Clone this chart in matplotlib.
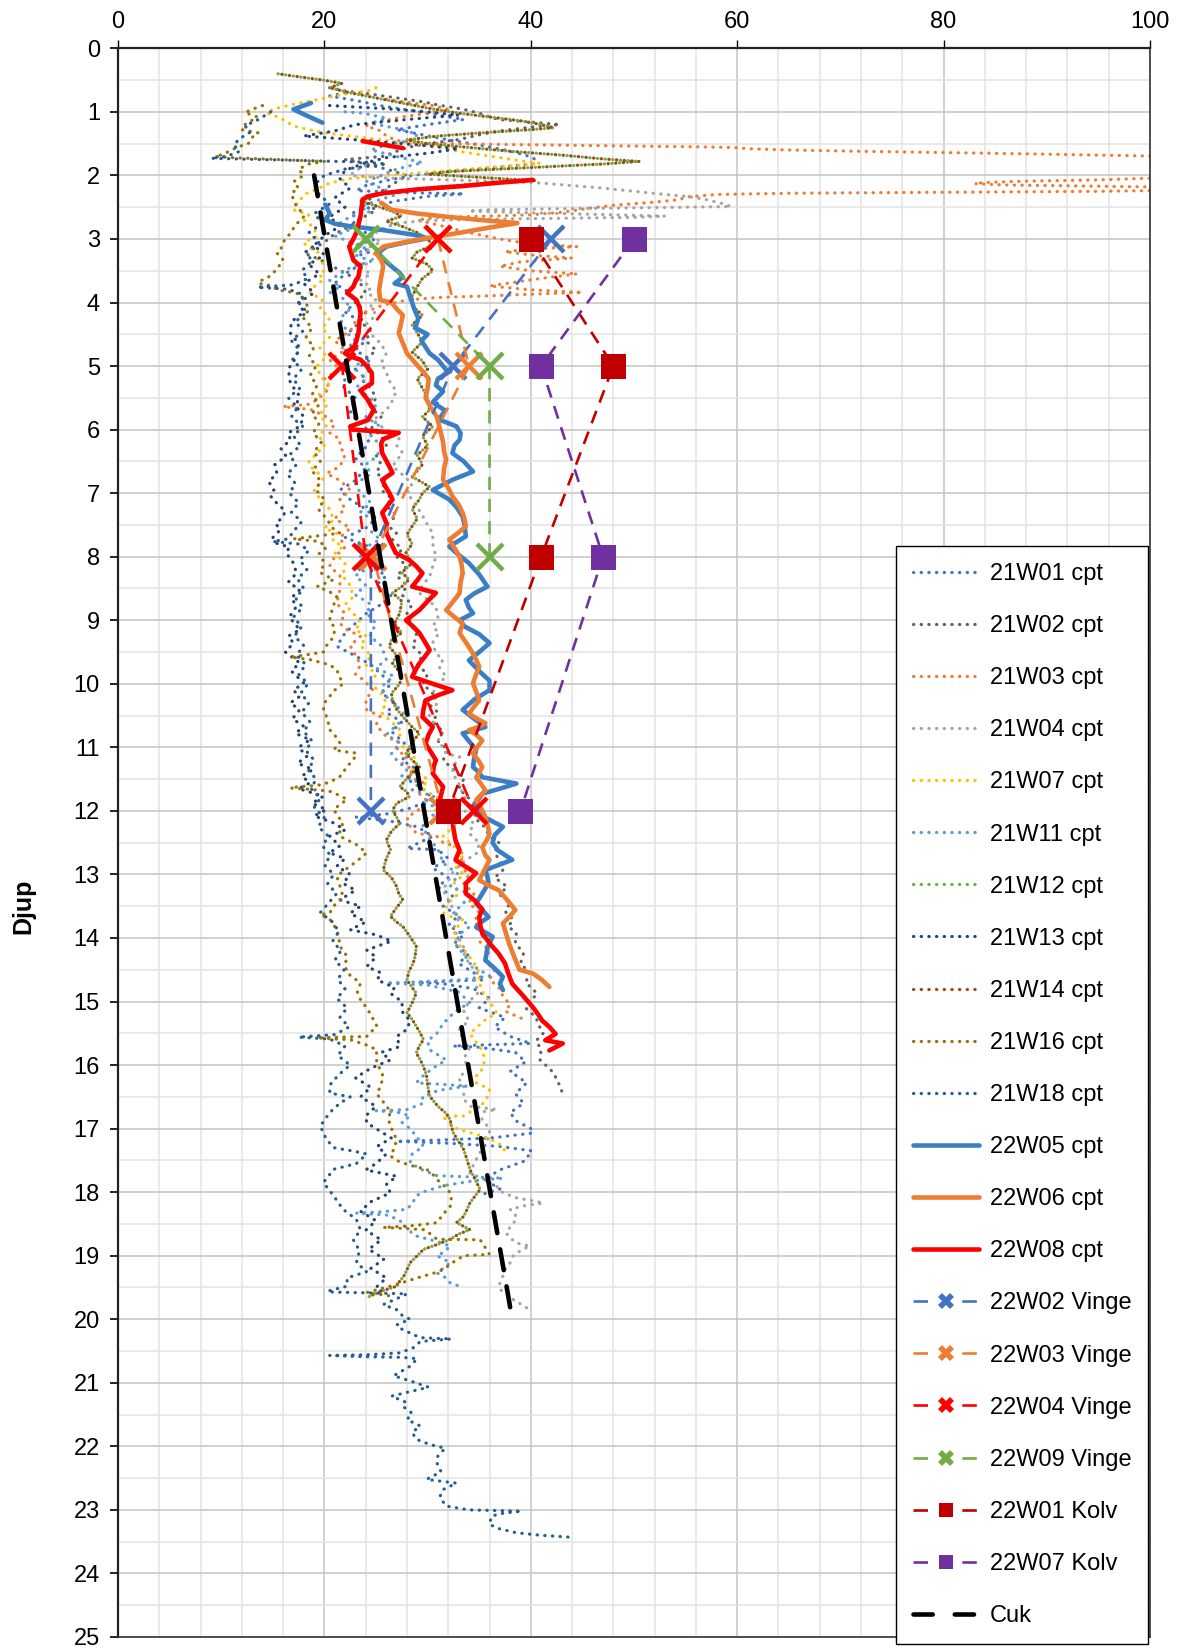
import matplotlib
matplotlib.use('Agg')
import matplotlib.pyplot as plt
from matplotlib.lines import Line2D
from matplotlib.ticker import MultipleLocator

plt.rcParams['font.family'] = ['Liberation Sans', 'DejaVu Sans']
nan = float('nan')

# ---------------- data (depth in m, value) ----------------
d_21W01 = [0.70,0.75,0.82,0.91,0.98,1.05,1.12,1.20,1.28,1.36, 1.44,1.52,1.60,1.68,1.75,1.82,1.88,1.94,2.00,2.08, 2.16,2.24,2.27,2.29,2.33,2.40,2.50,2.60,2.70,2.80, 2.90,3.00,3.10,3.20,3.30,3.40,3.55,3.70,3.85,4.00, 4.15,4.30,4.45,4.60,4.75,4.90,5.05,5.20,5.32,5.50, 5.74,5.90,6.05,6.26,6.45,6.60,6.80,6.95,7.10,7.25, 7.40,7.55,7.70,7.85,8.00,8.15,8.30,8.45,8.60,8.75, 8.90,9.05,9.20,9.41,9.57,9.70,9.85,10.00,10.15,10.30, 10.45,10.60,10.75,10.90,11.05,11.20,11.35,11.50,11.65,11.80, 11.95,12.05,12.10,12.15,12.25,12.40,12.59,12.61,12.75,12.90, 13.05,13.20,13.35,13.50,13.65,13.80,13.95,14.10,14.25,14.40, 14.55,14.66,14.68,14.70,14.72,14.80,14.95,15.10,15.25,15.40, 15.55,15.66,15.68,15.70,15.72,15.80,15.95,16.10,16.28,16.45, 16.60,16.75,16.88,17.00,17.07,17.15,17.18,17.20,17.23,17.28, 17.35,17.51,17.65,17.80,17.95,18.05]
v_21W01 = [22.0,20.5,23.0,25.7,28.5,31.0,33.5,30.0,27.0,29.5, 32.0,35.0,37.5,39.5,40.5,40.2,36.0,32.0,28.5,26.0, 24.0,23.1,28.0,33.5,30.0,27.0,24.5,22.5,23.5,22.0, 24.0,25.0,23.0,24.5,22.5,23.5,22.0,21.0,22.5,23.0, 22.0,23.5,22.5,24.0,23.0,24.5,23.0,22.0,21.8,23.0, 22.5,23.5,24.5,24.1,23.0,24.0,23.0,21.5,22.5,24.0, 25.0,24.0,22.0,24.5,25.5,24.5,26.0,25.0,26.5,25.5, 24.0,23.0,22.0,21.2,23.1,24.5,25.5,26.5,25.5,27.0, 26.0,27.5,26.5,27.5,28.5,27.5,29.0,28.0,29.5,30.5, 28.5,26.0,23.0,26.0,29.0,30.5,28.0,31.0,32.0,30.5, 32.0,31.0,32.5,31.5,33.0,32.0,33.5,32.5,34.0,33.0, 34.5,35.5,32.0,29.0,31.5,34.5,36.0,35.0,37.5,36.5, 38.0,40.0,36.0,32.5,35.0,38.5,39.5,38.0,39.6,38.5, 39.3,38.0,38.6,40.0,40.2,36.0,31.0,27.0,32.0,37.0, 40.1,39.4,37.0,35.5,37.0,35.0]

d_21W02 = [0.62,0.67,0.72,0.78,0.84,0.90,0.96,1.02,1.08,1.12, 1.16,1.20,1.24,1.30,1.36,1.43,1.50,1.56,1.62,1.70, 1.75,1.82,1.90,2.00,2.10,2.20,2.30,2.42,2.55,2.68, 2.80,2.92,3.05,3.15,3.22,3.32,3.45,3.58,3.70,3.85, 4.00,4.15,4.30,4.45,4.60,4.75,4.90,5.05,5.20,5.35, 5.50,5.65,5.80,5.95,6.10,6.25,6.40,6.55,6.68,6.80, 6.95,7.08,7.20,7.35,7.50,7.62,7.73,7.88,8.00,8.15, 8.30,8.45,8.60,8.75,8.89,9.10,9.25,9.40,9.55,9.70, 9.85,10.00,10.15,10.30,10.45,10.60,10.75,10.90,11.05,11.20, 11.35,11.50,11.65,11.80,11.95,12.10,12.25,12.40,12.50,12.65, 12.80,12.93,13.05,13.19,13.32,13.45,13.58,13.71,13.82,13.92, 14.08,14.24,14.40,14.55,14.70,14.87,15.00,15.10,15.25,15.38, 15.50,15.62,15.75,15.92,16.07,16.15,16.23,16.32,16.41]
v_21W02 = [20.5,22.0,24.5,27.0,29.5,31.3,33.5,35.0,36.0,36.9, 40.0,42.8,40.0,37.0,35.0,33.2,30.0,28.0,27.0,25.7, 22.0,24.0,26.0,28.0,27.0,26.0,25.0,24.0,25.0,23.5, 22.5,21.0,20.0,19.0,18.0,19.5,21.0,22.5,23.5,24.0, 23.0,24.0,23.5,24.5,24.0,25.0,24.0,24.5,23.5,24.5, 25.0,24.5,25.5,24.5,25.5,26.0,25.0,25.5,25.0,26.0, 25.5,26.5,26.0,27.0,26.0,27.0,26.6,27.5,27.0,28.0, 27.0,28.0,27.5,28.5,28.0,28.5,29.0,28.5,29.5,29.0, 30.0,29.5,30.5,30.0,31.0,30.5,31.5,31.0,32.0,31.5, 32.5,33.5,33.0,34.0,35.0,34.5,35.5,36.0,36.9,36.5, 37.0,37.3,36.5,37.7,37.0,38.0,37.5,38.3,37.8,38.6, 38.5,39.3,39.0,39.9,39.5,40.6,40.0,39.5,40.5,40.8, 41.2,40.5,41.0,40.9,41.9,42.3,42.5,42.8,43.0]

d_21W03 = [0.80,0.85,0.90,0.96,1.02,1.08,1.15,1.22,1.30,1.38, 1.45,1.49,1.50,1.51,1.52,1.53,1.54,1.55,1.56,1.57, 1.58,1.60,1.62,1.64,1.66,1.68,1.70,1.80,2.00,2.07, 2.09,2.11,2.13,2.15,2.17,2.19,2.23,2.25,2.26,2.27, 2.28,2.30,2.34,2.38,2.42,2.47,2.52,2.58,2.62,2.64, 2.66,2.70,2.80,2.90,3.00,3.08,3.12,3.16,3.20,3.26, 3.30,3.36,3.43,3.50,3.55,3.62,3.69,3.74,3.80,3.84, 3.87,3.90,3.92,3.96,4.05,4.15,4.30,4.45,4.60,4.75, 4.90,5.05,5.20,5.35,5.50,5.60,5.64,5.68,5.78,5.90, 6.05,6.15,6.26,6.40,6.58,6.69,6.80,6.95,7.10,7.25, 7.40,7.55,7.70,7.85,8.00,8.15,8.30,8.52,8.73,8.90, 9.05,9.15,9.25,9.40,9.55,9.70,9.85,9.94,10.10,10.25, 10.41,10.51,10.65,10.83,10.93,11.05,11.14,11.25,11.35,11.45, 11.56,11.70,11.85,12.00,12.10,12.24,12.35,12.40,12.50,12.56, 12.70,12.85,13.00,13.15,13.30,13.45,13.60,13.75,13.90,14.05, 14.20,14.35,14.50,14.65,14.80,14.92,15.05,15.15,15.23,15.30]
v_21W03 = [26.0,28.0,30.5,32.0,30.0,27.5,25.5,24.0,25.5,26.0, 27.0,29.0,32.0,36.0,41.0,46.0,51.0,56.0,59.5,60.5, 61.0,65.0,72.0,80.0,88.0,95.0,102.0,110.0,108.0,95.0, 88.0,84.0,83.0,86.0,95.0,104.0,104.0,95.0,85.0,75.0, 65.0,58.0,55.0,54.4,52.0,48.0,45.5,43.0,40.0,36.0, 31.0,29.0,31.5,34.0,37.0,40.0,44.5,40.0,37.5,40.5, 44.0,39.0,37.0,40.0,44.5,41.0,38.0,36.0,40.0,45.0, 40.0,35.0,31.0,28.0,25.5,24.0,23.0,22.5,21.0,22.0, 20.5,21.5,20.0,20.5,19.5,18.6,16.0,18.6,20.0,21.0, 20.5,21.5,21.5,22.0,21.5,20.2,21.5,22.5,21.5,22.0, 21.0,22.5,21.5,22.0,21.0,20.5,21.5,21.5,21.2,22.0, 21.5,22.2,23.5,22.5,23.0,23.5,23.0,23.8,24.7,24.0, 24.1,25.4,25.0,26.0,27.3,27.0,28.0,27.5,28.6,28.0, 29.6,29.0,30.0,29.0,28.0,28.3,28.9,30.9,31.5,32.8, 33.5,33.0,34.0,33.5,34.5,34.0,35.0,34.5,35.5,35.0, 36.0,35.5,36.5,36.0,37.0,37.3,38.0,37.5,38.6,39.6]

d_21W04 = [1.85,1.92,2.00,2.04,2.06,2.08,2.10,2.12,2.16,2.20, 2.25,2.30,2.33,2.38,2.44,2.49,2.50,2.51,2.52,2.53, 2.54,2.56,2.58,2.60,2.62,2.64,2.66,2.67,2.68,2.69, 2.71,2.75,2.85,2.95,3.05,3.15,3.25,3.35,3.45,3.55, 3.65,3.75,3.85,3.95,4.05,4.20,4.35,4.50,4.65,4.80, 4.95,5.10,5.27,5.40,5.48,5.58,5.69,5.78,5.85,5.95, 6.10,6.25,6.37,6.48,6.58,6.70,6.85,7.00,7.10,7.20, 7.35,7.50,7.63,7.80,8.00,8.15,8.31,8.45,8.57,8.68, 8.79,8.95,9.10,9.20,9.35,9.52,9.62,9.73,9.89,10.00, 10.15,10.30,10.45,10.60,10.75,10.90,11.00,11.10,11.15,11.30, 11.41,11.55,11.62,11.75,11.90,12.05,12.20,12.35,12.50,12.66, 12.80,12.95,13.10,13.24,13.40,13.55,13.70,13.85,14.00,14.15, 14.24,14.40,14.55,14.70,14.85,15.00,15.15,15.30,15.45,15.60, 15.75,15.90,16.05,16.20,16.35,16.54,16.65,16.70,16.75,16.90, 17.00,17.12,17.25,17.40,17.55,17.70,17.80,17.91,18.01,18.09, 18.13,18.17,18.21,18.27,18.35,18.43,18.55,18.64,18.72,18.80, 18.85,18.92,19.00,19.11,19.22,19.32,19.43,19.53,19.62,19.69, 19.76,19.82]
v_21W04 = [24.0,23.0,22.5,26.0,30.0,34.0,38.0,41.0,44.0,47.0, 50.0,53.0,55.2,57.0,58.5,59.4,55.0,50.0,45.0,40.0, 36.0,34.0,38.0,43.0,48.0,53.0,50.0,45.0,40.0,35.0, 30.0,27.0,25.5,24.5,25.5,24.0,25.0,24.5,23.5,24.5, 23.5,24.5,24.2,25.0,24.5,25.0,24.0,24.5,25.5,26.0, 25.5,26.0,26.4,27.0,26.7,26.5,26.0,25.3,24.7,25.5, 27.3,27.0,27.6,27.0,26.6,27.5,28.5,28.0,28.5,28.9, 29.5,30.0,30.5,30.5,30.8,30.5,30.2,29.5,29.2,30.0, 30.8,31.0,30.5,31.1,30.5,30.8,31.5,31.1,31.8,31.0, 30.5,31.0,30.0,30.5,31.5,31.0,31.5,31.8,33.1,32.5, 32.4,33.0,33.1,33.5,34.0,33.5,34.5,34.0,35.0,34.8, 33.5,32.5,32.0,31.5,32.0,32.5,33.0,32.5,33.0,33.5, 33.5,34.0,34.8,34.5,35.0,34.0,33.5,34.0,33.0,33.5, 34.0,33.5,34.0,33.0,33.5,33.5,34.2,36.7,34.8,35.5, 36.0,36.0,35.5,35.0,34.5,34.1,35.5,36.7,37.3,38.6, 40.0,41.2,39.5,38.0,38.5,38.6,38.0,37.6,38.0,38.6, 39.9,39.0,38.3,38.0,37.5,37.3,37.0,37.0,37.8,38.3, 39.0,39.6]

d_21W07 = [0.62,0.66,0.72,0.80,0.88,0.96,1.02,1.08,1.15,1.22, 1.28,1.33,1.37,1.42,1.47,1.52,1.57,1.62,1.67,1.72, 1.77,1.81,1.85,1.90,1.95,2.00,2.05,2.12,2.20,2.28, 2.40,2.54,2.62,2.70,2.82,2.96,3.05,3.12,3.22,3.33, 3.45,3.55,3.64,3.75,3.85,3.95,4.10,4.25,4.40,4.55, 4.70,4.85,5.00,5.16,5.30,5.45,5.60,5.75,5.95,6.10, 6.25,6.37,6.50,6.58,6.70,6.79,6.95,7.10,7.25,7.42, 7.55,7.63,7.75,7.84,7.95,8.10,8.31,8.45,8.63,8.75, 8.89,9.04,9.15,9.25,9.40,9.55,9.70,9.85,10.00,10.15, 10.30,10.45,10.60,10.75,10.90,11.05,11.20,11.35,11.50,11.65, 11.80,11.95,12.10,12.25,12.40,12.55,12.70,12.85,13.00,13.15, 13.30,13.45,13.60,13.66,13.68,13.80,13.95,14.10,14.24,14.40, 14.55,14.70,14.87,15.00,15.18,15.30,15.40,15.50,15.60,15.70, 15.81,15.95,16.13,16.23,16.30,16.38,16.50,16.60,16.70,16.80, 16.81,16.90,17.00,17.06,17.12,17.20,17.28,17.36,17.43]
v_21W07 = [25.0,24.5,22.0,19.5,17.0,15.0,14.4,15.5,16.3,17.0, 18.5,20.0,22.0,24.5,27.0,29.5,31.5,33.0,35.0,37.0, 39.0,40.9,38.0,34.0,30.0,26.0,22.5,20.5,19.5,18.3, 17.5,17.0,18.5,18.0,19.0,19.3,18.0,18.3,19.5,19.3, 20.5,19.5,19.9,19.0,18.6,19.8,19.6,20.5,19.8,20.5, 19.5,20.2,19.3,19.6,20.5,19.5,20.3,19.6,20.2,19.5, 20.0,19.3,18.5,18.6,19.5,19.9,19.0,19.6,20.5,20.9, 20.0,21.2,20.8,21.8,21.0,22.0,21.8,22.5,22.8,22.0, 22.8,23.5,23.0,24.1,23.5,24.5,24.0,25.0,24.5,25.5, 26.0,25.5,26.5,27.5,27.0,28.0,29.0,28.5,30.0,29.5, 31.0,30.5,31.5,32.5,31.5,32.5,33.5,32.5,33.5,32.5, 33.0,32.0,31.5,32.2,33.5,33.0,32.5,33.0,33.8,34.5, 35.0,35.0,35.4,36.0,36.7,35.5,34.8,34.1,34.5,35.0, 35.4,35.5,35.1,34.1,35.0,36.0,35.8,35.4,34.5,33.5, 31.5,32.0,32.8,34.0,35.4,36.5,37.3,37.5,37.7]

d_21W11 = [1.00,1.02,1.10,1.18,1.26,1.35,1.44,1.52,1.60,1.70, 1.80,1.90,2.00,2.10,2.20,2.30,2.40,2.50,2.57,2.65, 2.75,2.85,2.95,3.05,3.15,3.25,3.35,3.45,3.55,3.65, 3.75,3.85,3.95,4.10,4.25,4.40,4.48,4.60,4.75,4.90, 5.05,5.20,5.35,5.50,5.65,5.80,5.95,6.10,6.25,6.42, 6.55,6.70,6.85,7.00,7.15,7.30,7.45,7.60,7.73,7.85, 8.00,8.15,8.30,8.45,8.60,8.75,8.89,9.05,9.25,9.40, 9.62,9.75,9.88,10.05,10.20,10.35,10.51,10.65,10.80,10.93, 11.10,11.20,11.35,11.45,11.56,11.67,11.77,11.88,11.98,12.10, 12.25,12.45,12.60,12.82,13.00,13.19,13.30,13.45,13.60,13.82, 13.95,14.13,14.25,14.40,14.50,14.60,14.66,14.69,14.71,14.74, 14.85,15.02,15.12,15.23,15.35,15.50,15.62,15.76,15.92,16.05, 16.18,16.28,16.31,16.33,16.40,16.50,16.60,16.70,16.72,16.74, 16.80,16.90,17.00,17.14,17.28,17.40,17.54,17.65,17.74,17.76, 17.78,17.82,17.90,18.00,18.06,18.18,18.27,18.31,18.33,18.36, 18.42,18.48,18.58,18.69,18.78,18.85,18.95,19.00,19.11,19.20, 19.27,19.35,19.43,19.48]
v_21W11 = [22.0,23.8,26.0,24.5,27.0,29.0,28.6,26.0,24.5,27.0, 29.5,27.0,25.5,24.0,25.5,27.0,25.0,23.5,24.4,22.5, 21.5,22.5,21.0,22.5,24.0,23.0,24.5,22.5,21.5,20.5, 21.5,20.5,22.0,22.5,21.5,22.0,22.2,23.0,22.0,23.5, 23.0,24.0,23.0,24.5,25.0,24.0,25.4,24.5,25.5,25.1, 24.0,24.5,23.0,23.5,24.5,23.5,25.0,24.5,25.4,24.0, 23.5,24.5,23.0,24.0,23.0,24.5,24.1,25.0,24.4,25.5, 26.0,25.0,26.7,25.5,26.0,27.0,28.0,27.0,26.0,27.3, 26.5,27.0,28.0,27.5,29.3,28.5,30.6,29.5,31.9,30.0, 29.5,30.2,31.0,31.5,33.0,32.2,34.0,33.5,32.5,34.1, 33.0,32.8,33.5,34.1,35.0,36.0,33.0,29.0,26.0,30.0, 33.0,34.1,33.0,32.2,31.5,30.9,30.0,30.2,31.8,30.5, 29.5,28.9,32.0,33.8,31.0,29.5,29.6,28.0,25.0,27.0, 28.3,27.5,28.3,29.0,29.6,28.5,28.3,29.5,30.9,34.0, 37.3,34.5,31.5,29.5,28.9,28.5,28.0,25.5,23.1,26.0, 27.0,27.6,28.0,28.9,31.0,32.2,31.5,30.9,32.2,31.5, 30.9,31.8,32.2,33.1]

d_21W14 = [0.40,0.45,0.50,0.55,0.62,0.70,0.78,0.86,0.94,1.02, 1.08,1.14,1.20,1.25,1.28,1.32,1.38,1.44,1.50,1.56, 1.62,1.68,1.74,1.78,1.82,1.86,1.90,1.94,1.98,2.02, 2.06,2.08,2.12,2.18,2.25,2.32,2.40,2.48,2.56,2.64, 2.72,2.80,2.90,3.00,3.10,3.20,3.30,3.40,3.50,3.62, 3.75,3.90,4.06,4.20,4.35,4.48,4.62,4.78,4.92,5.05, 5.20,5.35,5.50,5.69,5.80,5.95,6.10,6.25,6.40,6.55, 6.74,6.90,7.00,7.10,7.25,7.40,7.52,7.65,7.80,7.94, 8.10,8.25,8.36,8.47,8.57,8.70,8.89,9.05,9.20,9.30, 9.42,9.55,9.68,9.85,10.00,10.15,10.26,10.40,10.57,10.68, 10.78,10.92,11.10,11.20,11.31,11.45,11.62,11.70,11.78,11.88, 11.99,12.10,12.20,12.32,12.46,12.61,12.75,12.93,13.05,13.19, 13.30,13.40,13.52,13.66,13.75,13.82,13.98,14.13,14.28,14.40, 14.52,14.66,14.78,14.87,15.02,15.18,15.28,15.39,15.50,15.60, 15.70,15.81,15.92,16.02,16.17,16.32,16.49,16.65,16.76,16.86, 16.96,17.07,17.20,17.33,17.48,17.64,17.80,17.96,18.06,18.17, 18.28,18.38,18.48,18.59,18.66,18.74,18.82,18.90,19.00,19.11, 19.22,19.32,19.40,19.48,19.56,19.66]
v_21W14 = [15.5,17.6,19.9,21.7,20.5,22.5,25.0,27.5,30.0,33.0, 36.0,39.0,41.0,42.2,40.0,36.0,31.0,28.0,30.0,34.0, 38.0,43.0,47.0,50.5,47.0,42.0,37.0,32.0,30.0,34.0, 38.0,40.5,36.0,31.0,27.0,24.5,23.5,25.0,26.5,27.5, 26.0,27.5,29.0,30.0,30.5,29.0,28.5,30.0,30.5,29.5, 29.0,28.5,28.6,29.5,28.5,29.0,29.5,28.5,29.5,30.0, 29.0,29.5,30.0,30.2,29.5,30.5,29.5,30.0,29.0,29.5, 28.5,30.2,29.5,29.2,28.5,29.0,28.5,28.0,28.5,27.9, 28.5,27.5,28.2,27.5,26.6,27.5,27.3,26.8,27.5,26.5, 26.3,27.0,26.6,27.5,27.3,26.5,26.6,27.0,27.9,28.5, 29.2,28.5,27.9,28.5,29.2,28.2,27.3,28.0,28.2,27.0, 26.6,27.0,27.3,26.5,26.0,26.4,26.0,25.7,26.5,27.0, 27.2,27.6,27.0,26.4,27.0,27.6,28.3,28.9,28.8,28.6, 28.2,28.0,28.5,28.9,28.5,28.0,28.5,28.9,29.3,29.6, 29.2,28.9,29.3,29.6,29.9,30.0,30.2,31.0,31.8,32.2, 32.3,32.5,33.0,33.5,33.8,34.1,34.6,35.1,34.6,34.1, 33.8,33.5,32.8,34.1,33.0,32.2,31.0,29.6,29.0,28.3, 28.0,27.7,27.3,27.0,25.5,24.1]
# 21W12 lies on top of 21W14 (same readings)
d_21W12 = list(d_21W14)
v_21W12 = list(v_21W14)

d_21W13 = [0.90,0.95,1.00,1.05,1.12,1.20,1.30,1.38,1.45,1.52, 1.58,1.65,1.72,1.80,1.92,2.05,2.20,2.35,2.50,2.65, 2.80,2.95,3.10,3.25,3.40,3.55,3.70,3.85,4.00,4.15, 4.30,4.48,4.65,4.85,5.05,5.27,5.45,5.64,5.80,5.95, 6.05,6.16,6.30,6.42,6.55,6.69,6.82,6.95,7.05,7.16, 7.28,7.37,7.48,7.58,7.70,7.79,7.85,7.94,8.10,8.26, 8.40,8.52,8.65,8.78,8.95,9.15,9.25,9.36,9.50,9.67, 9.80,9.99,10.10,10.20,10.30,10.41,10.55,10.67,10.78,10.88, 11.00,11.14,11.25,11.35,11.45,11.56,11.65,11.77,11.88,11.98, 12.08,12.19,12.30,12.40,12.55,12.66,12.75,12.87,13.00,13.14, 13.25,13.40,13.50,13.61,13.75,13.87,13.95,14.05,14.19,14.30, 14.45,14.55,14.66,14.78,14.87,15.00,15.18,15.30,15.44,15.55, 15.71,15.80,15.92,16.05,16.20,16.35,16.50,16.65,16.80,16.91, 17.05,17.15,17.28,17.40,17.55,17.65,17.75,17.88,18.01,18.15, 18.30,18.45,18.60,18.75,18.90,19.05,19.20,19.35,19.50,19.62]
v_21W13 = [20.5,26.0,30.0,33.0,28.0,23.0,21.0,18.0,24.0,29.0, 33.0,30.0,26.0,24.0,22.0,21.5,22.5,21.0,22.0,20.5, 21.5,20.0,19.0,20.0,18.5,19.5,18.0,19.0,17.5,18.0, 16.8,16.7,17.5,17.3,16.5,16.7,17.5,17.3,18.0,17.6, 16.5,16.7,15.8,16.3,15.2,15.4,14.6,15.1,14.8,15.4, 16.2,16.0,15.3,15.7,15.0,15.4,16.6,16.3,17.0,17.3, 16.5,17.6,16.8,17.3,16.6,17.6,16.5,17.0,16.2,17.6, 16.8,18.0,17.0,17.6,16.7,17.6,16.9,18.0,17.2,18.6, 17.5,18.3,17.4,18.9,17.8,18.6,17.5,19.9,18.8,20.2, 19.0,20.9,22.0,20.5,21.5,20.5,22.0,21.2,22.5,21.8, 23.0,21.5,23.5,22.5,24.0,22.5,25.0,26.5,24.1,25.0, 24.1,25.5,25.1,26.8,26.4,27.5,27.6,28.3,28.0,27.0, 27.3,25.5,26.4,24.5,23.0,24.5,23.5,25.0,24.0,24.1, 25.5,26.5,25.1,26.0,25.0,24.0,27.0,26.0,26.4,24.5, 23.5,25.0,24.0,25.5,24.3,25.8,24.5,26.0,25.0,26.0]

d_21W16 = [0.90,0.96,1.01,1.08,1.15,1.22,1.28,1.33,1.40,1.49, 1.56,1.62,1.68,1.70,1.72,1.74,1.76,1.78,1.82,1.90, 2.00,2.10,2.20,2.28,2.38,2.49,2.58,2.65,2.78,2.91, 3.05,3.15,3.22,3.33,3.45,3.58,3.66,3.70,3.74,3.80, 3.85,3.95,4.10,4.25,4.40,4.55,4.70,4.85,5.00,5.15, 5.30,5.45,5.60,5.75,5.90,6.05,6.20,6.35,6.50,6.65, 6.80,6.95,7.10,7.25,7.40,7.55,7.63,7.68,7.72,7.76, 7.85,7.95,8.10,8.25,8.36,8.47,8.55,8.63,8.80,9.00, 9.12,9.26,9.40,9.50,9.55,9.58,9.62,9.70,9.78,9.90, 10.00,10.10,10.20,10.30,10.41,10.55,10.72,10.85,10.93,11.04, 11.07,11.09,11.20,11.30,11.40,11.46,11.55,11.60,11.62,11.64, 11.66,11.69,11.76,11.82,11.90,11.98,12.08,12.19,12.30,12.40, 12.52,12.66,12.77,12.87,12.95,13.03,13.18,13.35,13.48,13.61, 13.63,13.70,13.87,14.00,14.13,14.29,14.42,14.55,14.71,14.85, 14.97,15.08,15.18,15.30,15.39,15.48,15.55,15.56,15.57,15.59, 15.60,15.68,15.76,15.87,15.97,16.07,16.18,16.30,16.46,16.60, 16.73,16.85,16.96,17.07,17.17,17.30,17.43,17.50,17.54,17.60, 17.64,17.72,17.80,17.90,18.01,18.12,18.22,18.35,18.48,18.51, 18.53,18.555,18.57,18.59,18.66,18.74,18.745,18.75,18.85,18.98, 19.00,19.10,19.22,19.28,19.32,19.40,19.48,19.53,19.58,19.64]
v_21W16 = [14.0,13.0,12.3,13.5,12.8,12.1,12.0,13.6,13.0,12.7, 11.5,10.8,9.9,9.4,11.0,14.0,17.0,20.0,18.5,17.5, 18.0,17.0,17.5,16.8,17.0,17.3,17.8,18.0,17.2,16.7, 16.0,15.8,15.4,16.0,15.5,14.8,13.8,13.6,15.0,15.4, 17.3,18.0,18.5,18.0,18.8,18.2,19.0,18.5,19.2,18.6, 19.3,18.8,19.5,18.8,19.5,18.9,19.7,19.0,19.6,18.8, 19.6,19.2,20.0,19.4,20.2,20.8,21.5,19.0,17.0,19.5, 20.2,19.5,20.0,19.6,20.9,19.3,20.5,21.2,20.8,20.5, 21.0,20.9,20.2,19.9,18.0,16.7,18.6,20.5,21.2,21.5, 21.8,21.0,20.5,20.0,19.9,20.3,20.5,21.2,21.5,20.9, 22.0,23.1,22.8,22.2,21.8,21.5,20.5,19.3,17.5,16.7, 18.5,20.5,21.5,22.2,21.5,20.9,21.3,21.8,21.5,21.5, 23.0,24.1,23.3,22.5,21.8,21.2,21.5,21.8,21.0,20.5, 19.6,20.5,21.2,21.4,21.5,22.2,22.0,22.2,23.5,23.2, 23.5,24.0,24.4,24.8,25.1,24.5,24.1,21.5,19.3,21.0, 22.5,24.0,25.1,25.0,25.1,25.4,25.7,25.5,25.1,25.8, 26.4,26.2,26.4,26.7,27.0,26.8,26.4,27.0,27.6,28.8, 29.9,30.5,30.9,31.6,32.2,32.3,32.2,31.5,30.9,29.5, 28.3,25.7,27.5,29.6,30.3,30.9,33.0,35.1,35.5,36.0, 33.5,32.5,31.5,30.5,29.6,28.0,26.4,25.2,24.1,26.7]

d_21W18 = [1.00,1.12,1.22,1.32,1.42,1.52,1.62,1.70,1.73,1.75, 1.77,1.79,1.82,1.90,2.00,2.15,2.30,2.45,2.60,2.75, 2.90,3.05,3.20,3.35,3.50,3.62,3.72,3.76,3.79,3.88, 4.00,4.15,4.30,4.45,4.60,4.75,4.90,5.05,5.20,5.35, 5.50,5.65,5.80,5.95,6.10,6.25,6.40,6.55,6.70,6.85, 7.00,7.15,7.30,7.45,7.60,7.72,7.76,7.80,7.90,8.05, 8.20,8.35,8.50,8.65,8.80,8.95,9.10,9.25,9.40,9.55, 9.70,9.85,10.00,10.15,10.30,10.45,10.60,10.75,10.90,11.05, 11.20,11.35,11.50,11.65,11.80,11.95,12.10,12.25,12.40,12.55, 12.70,12.85,13.00,13.15,13.30,13.45,13.60,13.75,13.90,14.05, 14.20,14.35,14.50,14.65,14.80,14.95,15.10,15.25,15.40,15.52, 15.56,15.59,15.70,15.85,16.00,16.15,16.30,16.44,16.50,16.60, 16.75,16.96,17.17,17.30,17.36,17.40,17.55,17.64,17.85,18.06, 18.27,18.43,18.60,18.75,18.92,19.11,19.25,19.35,19.48,19.55, 19.57,19.58,19.59,19.60,19.64,19.77,19.85,19.95,20.00,20.09, 20.14,20.24,20.29,20.31,20.35,20.45,20.53,20.56,20.57,20.59, 20.60,20.62,20.74,20.89,20.98,21.07,21.15,21.21,21.30,21.37, 21.48,21.58,21.68,21.78,21.89,21.97,22.03,22.15,22.26,22.40, 22.52,22.58,22.68,22.79,22.90,22.94,23.00,23.02,23.06,23.10, 23.23,23.30,23.36,23.40,23.43]
v_21W18 = [14.8,13.6,12.3,12.8,11.8,11.2,11.8,10.5,9.0,14.0, 19.0,24.0,26.0,22.0,20.0,19.0,19.5,20.5,19.0,19.8, 18.5,19.5,18.2,18.8,17.8,18.4,17.0,13.5,16.5,18.0, 17.5,18.3,17.2,17.9,16.8,17.6,16.9,17.8,17.0,17.6, 16.5,17.4,16.8,17.9,17.0,17.7,16.6,17.3,16.4,17.2, 16.6,17.5,16.8,17.8,17.0,16.5,15.0,17.5,18.5,17.6, 18.3,17.4,18.0,17.2,17.9,17.0,17.8,17.1,18.0,17.3, 18.2,17.5,18.4,17.7,18.5,17.8,18.6,18.0,18.8,18.2, 19.0,18.4,19.2,18.7,19.6,19.0,20.0,19.4,20.4,19.8, 20.6,20.0,20.9,20.3,21.2,20.4,19.6,20.8,21.4,20.8, 21.6,21.0,21.9,21.3,22.0,21.2,22.2,21.5,22.4,21.0, 17.5,20.5,22.0,21.3,22.5,21.4,20.6,20.5,22.5,21.5, 20.5,19.6,20.2,20.9,23.0,24.1,23.1,20.9,19.9,20.9, 21.8,23.1,23.5,22.8,23.4,23.1,24.1,22.2,22.2,20.5, 20.3,23.0,26.0,28.0,27.5,25.7,27.0,27.6,28.3,27.0, 27.3,28.6,29.3,32.3,29.3,28.6,27.3,24.0,20.5,24.0, 27.5,29.0,28.3,26.7,28.5,30.1,28.0,26.5,27.8,27.6, 28.5,28.0,29.3,28.5,28.9,30.2,31.7,31.0,30.9,31.3, 29.9,32.8,31.5,31.2,31.6,31.8,34.0,39.1,37.0,36.2, 36.0,37.0,38.6,41.0,43.8]

d_22W05 = [0.86,0.96,1.06,1.17,nan, 2.46,2.60,2.70,2.76,2.80, 2.86,2.94,2.99,3.05,3.12, 3.22,3.33,3.43,3.52,3.60, 3.70,3.75,3.90,4.10,4.25, 4.40,4.50,4.60,4.70,4.80, 4.90,5.00,5.10,5.20,5.30, 5.40,5.50,5.57,5.70,5.84, 5.95,6.06,6.16,6.25,6.37, 6.50,6.66,6.79,6.95,7.10, 7.22,7.37,7.52,7.68,7.84, 7.97,8.10,8.28,8.47,8.58, 8.68,8.80,8.89,9.00,9.10, 9.22,9.36,9.50,9.63,9.80, 9.95,10.10,10.25,10.41,10.55, 10.68,10.78,10.90,11.04,11.18, 11.31,11.40,11.47,11.57,11.65, 11.73,11.85,11.94,12.10,12.25, 12.38,12.50,12.62,12.77,12.93, 13.04,13.14,13.30,13.46,13.56, 13.67,13.75,13.83,13.98,14.15, 14.35,14.48,14.61,14.72,14.82]
v_22W05 = [18.7,17.0,18.3,19.8,nan, 20.1,20.5,20.1,21.0,22.5, 25.7,28.9,30.0,28.0,26.0, 25.2,25.8,26.5,27.2,27.6, 26.8,28.0,28.3,28.7,29.1, 28.8,30.0,29.4,29.8,30.2, 31.0,31.5,32.0,31.0,30.8, 31.5,30.9,30.5,31.7,31.1, 32.8,33.2,33.1,32.6,32.4, 33.5,34.4,32.4,30.5,32.1, 32.8,33.4,33.6,33.7,32.1, 33.0,34.0,35.0,35.8,34.5, 33.7,34.0,34.4,33.1,33.6, 35.0,36.0,35.0,34.0,35.0, 36.0,36.0,34.5,33.4,34.5, 35.6,33.4,34.0,34.7,34.5, 34.4,35.0,35.3,38.6,37.0, 35.3,34.8,34.4,35.5,37.3, 36.5,36.3,36.8,38.2,35.6, 35.8,35.9,35.3,34.7,35.3, 35.9,35.2,34.7,36.3,35.8, 35.6,36.5,37.3,37.0,37.3]

d_22W06 = [2.43,2.54,2.60,2.64,2.70, 2.75,2.82,2.90,3.00,3.06, 3.12,3.22,3.33,3.43,3.60, 3.80,3.96,4.00,4.10,4.20, 4.35,4.48,4.60,4.80,4.95, 5.06,5.20,5.35,5.50,5.65, 5.80,5.93,6.06,6.20,6.35, 6.47,6.60,6.79,6.92,7.05, 7.18,7.31,7.42,7.52,7.62, 7.73,7.86,8.00,8.13,8.26, 8.40,8.57,8.70,8.84,8.95, 9.05,9.20,9.30,9.42,9.55, 9.73,9.85,9.99,10.12,10.26, 10.36,10.47,10.55,10.62,10.68, 10.73,10.80,10.89,11.00,11.10, 11.20,11.31,11.40,11.47,11.58, 11.68,11.76,11.83,11.96,12.10, 12.22,12.36,12.47,12.57,12.70, 12.77,12.93,13.09,13.18,13.25, 13.40,13.56,13.67,13.77,13.93, 14.09,14.30,14.50,14.56,14.65, 14.77]
v_22W06 = [25.5,26.5,29.0,31.3,35.0, 38.7,36.0,33.2,29.4,27.5, 25.7,25.0,25.5,25.7,25.5, 25.3,25.4,26.5,27.0,27.6, 27.4,27.2,27.5,28.0,28.8, 29.4,30.1,30.0,29.8,30.3, 30.9,31.1,31.3,31.5,31.6, 31.8,31.6,31.5,32.0,32.4, 33.0,33.4,33.6,33.7,33.0, 32.1,32.6,33.1,33.3,33.4, 33.2,33.1,32.5,31.8,32.6, 33.4,33.1,33.5,34.0,34.5, 35.0,34.7,34.4,34.7,35.0, 34.5,34.0,34.8,35.6,34.9, 34.0,34.7,35.3,34.8,34.4, 34.9,35.3,35.0,34.7,35.2, 35.6,35.1,34.7,35.2,35.6, 35.8,36.0,35.7,35.3,35.6, 36.0,35.5,35.0,36.0,36.9, 37.7,38.5,37.9,37.3,37.6, 37.9,38.4,38.9,40.2,41.0, 41.8]

d_22W08 = [1.46,1.57,nan,2.07,2.12, 2.17,2.22,2.28,2.33,2.38, 2.50,2.64,2.77,2.90,3.00, 3.12,3.22,3.33,3.43,3.50, 3.59,3.67,3.75,3.85,3.96, 4.07,4.17,4.30,4.48,4.60, 4.69,4.80,4.85,4.90,5.00, 5.11,5.27,5.38,5.45,5.53, 5.62,5.69,5.77,5.85,5.95, 6.00,6.05,6.15,6.22,6.37, 6.52,6.68,6.79,6.89,7.00, 7.10,7.20,7.31,7.47,7.63, 7.80,7.94,8.05,8.15,8.26, 8.37,8.47,8.57,8.70,8.84, 9.00,9.10,9.20,9.33,9.47, 9.58,9.68,9.79,9.89,10.00, 10.10,10.18,10.26,10.40,10.52, 10.60,10.68,10.80,10.94,11.07, 11.20,11.30,11.41,11.52,11.62, 11.75,11.89,12.00,12.10,12.28, 12.46,12.62,12.77,12.88,12.98, 13.06,13.14,13.22,13.30,13.40, 13.55,13.67,13.80,13.93,14.10, 14.25,14.40,14.55,14.72,14.90, 15.09,15.20,15.30,15.40,15.51, 15.61,15.66,15.77]
v_22W08 = [23.7,27.6,nan,40.2,36.5, 33.2,29.0,25.7,24.2,23.7, 23.6,23.5,23.3,23.1,22.8, 22.4,22.6,22.8,23.5,23.4, 23.3,23.0,22.8,22.2,23.1, 23.4,23.5,23.4,23.3,23.1, 22.9,22.0,22.5,23.5,24.1, 24.6,24.6,23.5,23.8,24.2, 24.5,24.8,24.5,24.2,22.5, 22.7,27.2,25.7,25.5,25.6, 26.1,26.6,25.6,25.9,26.3, 26.6,26.1,25.6,26.0,26.0, 26.5,26.9,28.2,28.9,29.5, 29.0,28.5,30.8,30.0,29.2, 27.9,28.6,29.2,29.7,30.2, 29.7,29.2,28.8,28.5,30.5, 32.4,31.0,29.8,29.6,29.5, 30.0,30.5,30.1,29.8,30.3, 30.8,30.6,30.5,31.0,31.5, 31.3,31.1,31.7,32.4,32.5, 32.7,33.1,32.7,33.7,34.7, 34.2,33.7,33.7,33.7,34.5, 35.3,35.0,35.1,35.3,36.1, 36.9,37.5,37.8,38.2,39.2, 40.2,40.7,41.1,41.8,42.4, 41.4,43.1,41.8]

d_22W02_V = [3, 5, 8, 12];  v_22W02_V = [42.0, 32.5, 24.5, 24.5]
d_22W03_V = [3, 5, 8, 12];  v_22W03_V = [31.0, 34.0, 24.7, 31.5]
d_22W04_V = [3, 5, 8, 12];  v_22W04_V = [31.0, 21.7, 24.0, 34.5]
d_22W09_V = [3, 5, 8];      v_22W09_V = [24.0, 36.0, 36.0]
d_22W01_K = [3, 5, 8, 12];  v_22W01_K = [40.0, 48.0, 41.0, 32.0]
d_22W07_K = [3, 5, 8, 12];  v_22W07_K = [50.0, 41.0, 47.0, 39.0]
d_cuk = [2.0, 20.0];        v_cuk = [19.0, 38.2]

x_ticks = [0, 20, 40, 60, 80, 100]
y_ticks = list(range(0, 26))

# ---------------- figure ----------------
FS = 17
fig = plt.figure(figsize=(11.79, 16.5), dpi=100)
ax = fig.add_axes([0.1001, 0.0079, 0.8753, 0.9628])

DOT = (0, (0.1, 2.3))
DOT2 = (1.2, (0.1, 2.3))
LWD = 2.3
dotted = [
    ('21W01 cpt', d_21W01, v_21W01, '#4472C4', DOT),
    ('21W02 cpt', d_21W02, v_21W02, '#636363', DOT),
    ('21W03 cpt', d_21W03, v_21W03, '#ED7D31', DOT),
    ('21W04 cpt', d_21W04, v_21W04, '#A5A5A5', DOT),
    ('21W07 cpt', d_21W07, v_21W07, '#FFC000', DOT),
    ('21W11 cpt', d_21W11, v_21W11, '#5B9BD5', DOT),
    ('21W12 cpt', d_21W12, v_21W12, '#70AD47', DOT),
    ('21W13 cpt', d_21W13, v_21W13, '#264478', DOT),
    ('21W14 cpt', d_21W14, v_21W14, '#9E480E', DOT2),
    ('21W16 cpt', d_21W16, v_21W16, '#997300', DOT),
    ('21W18 cpt', d_21W18, v_21W18, '#255E91', DOT),
]
solid = [
    ('22W05 cpt', d_22W05, v_22W05, '#3A7FC6'),
    ('22W06 cpt', d_22W06, v_22W06, '#ED7D31'),
    ('22W08 cpt', d_22W08, v_22W08, '#FF0000'),
]
vinge = [
    ('22W02 Vinge', d_22W02_V, v_22W02_V, '#4472C4'),
    ('22W03 Vinge', d_22W03_V, v_22W03_V, '#ED7D31'),
    ('22W04 Vinge', d_22W04_V, v_22W04_V, '#FF0000'),
    ('22W09 Vinge', d_22W09_V, v_22W09_V, '#70AD47'),
]
kolv = [
    ('22W01 Kolv', d_22W01_K, v_22W01_K, '#C00000'),
    ('22W07 Kolv', d_22W07_K, v_22W07_K, '#7030A0'),
]

handles = []
labels = []
z = 2
for name, d, v, c, ls in dotted:
    ax.plot(v, d, color=c, lw=LWD, linestyle=ls, dash_capstyle='round', zorder=z)
    handles.append(Line2D([], [], color=c, lw=LWD, linestyle=DOT, dash_capstyle='round'))
    labels.append(name)
    z += 0.01
for name, d, v, c in solid:
    ax.plot(v, d, color=c, lw=3.3, solid_joinstyle='round', solid_capstyle='round', zorder=3)
    handles.append(Line2D([], [], color=c, lw=3.3, solid_capstyle='round'))
    labels.append(name)
DASH = (0, (5.0, 3.4))
for name, d, v, c in vinge:
    ax.plot(v, d, color=c, lw=1.9, linestyle=DASH, marker='x', markersize=19,
            markeredgewidth=3.2, zorder=4)
    handles.append(Line2D([], [], color=c, lw=1.9, linestyle=(0, (5.5, 13.0)),
                          marker='X', markersize=11, markeredgewidth=0))
    labels.append(name)
for name, d, v, c in kolv:
    ax.plot(v, d, color=c, lw=1.9, linestyle=DASH, marker='s', markersize=18,
            markeredgewidth=0, zorder=4.5)
    handles.append(Line2D([], [], color=c, lw=1.9, linestyle=(0, (5.5, 13.0)),
                          marker='s', markersize=10, markeredgewidth=0))
    labels.append(name)
ax.plot(v_cuk, d_cuk, color='black', lw=3.3, linestyle=(0, (4.6, 3.6)),
        dash_capstyle='round', zorder=5)
handles.append(Line2D([], [], color='black', lw=3.3, linestyle=(0, (4.2, 4.8)),
                      dash_capstyle='round'))
labels.append('Cuk')

# axes
ax.set_xlim(0, 100)
ax.set_ylim(25, 0)
ax.set_xticks(x_ticks)
ax.set_yticks(y_ticks)
ax.xaxis.set_minor_locator(MultipleLocator(4))
ax.yaxis.set_minor_locator(MultipleLocator(0.5))
ax.xaxis.tick_top()
ax.tick_params(axis='x', which='major', top=True, bottom=False, labeltop=True,
               labelbottom=False, length=6, width=1.0, labelsize=FS, pad=5)
ax.tick_params(axis='y', which='major', left=True, length=6, width=1.2,
               labelsize=FS, pad=7)
ax.tick_params(which='minor', length=0)
ax.grid(which='major', color='#c4c4c4', lw=1.1)
ax.grid(which='minor', color='#e3e3e3', lw=1.1)
ax.set_axisbelow(True)
for side in ['top', 'left']:
    ax.spines[side].set_linewidth(1.6)
    ax.spines[side].set_color('#222222')
for side in ['right', 'bottom']:
    ax.spines[side].set_linewidth(1.2)
    ax.spines[side].set_color('#333333')

ax.set_ylabel('Djup', fontsize=18, fontweight='bold')
ax.yaxis.set_label_coords(-0.080, 0.46)

leg = ax.legend(handles, labels, loc='upper left',
                bbox_to_anchor=(896 / 1179, 1 - 546 / 1650),
                bbox_transform=fig.transFigure, borderaxespad=0,
                fontsize=FS, handlelength=2.8, handletextpad=0.45,
                labelspacing=1.275, borderpad=0.72, frameon=True, fancybox=False,
                edgecolor='black', framealpha=1, numpoints=1)
leg.get_frame().set_linewidth(1.0)
leg.set_zorder(20)

fig.savefig('out.png', dpi=100)
